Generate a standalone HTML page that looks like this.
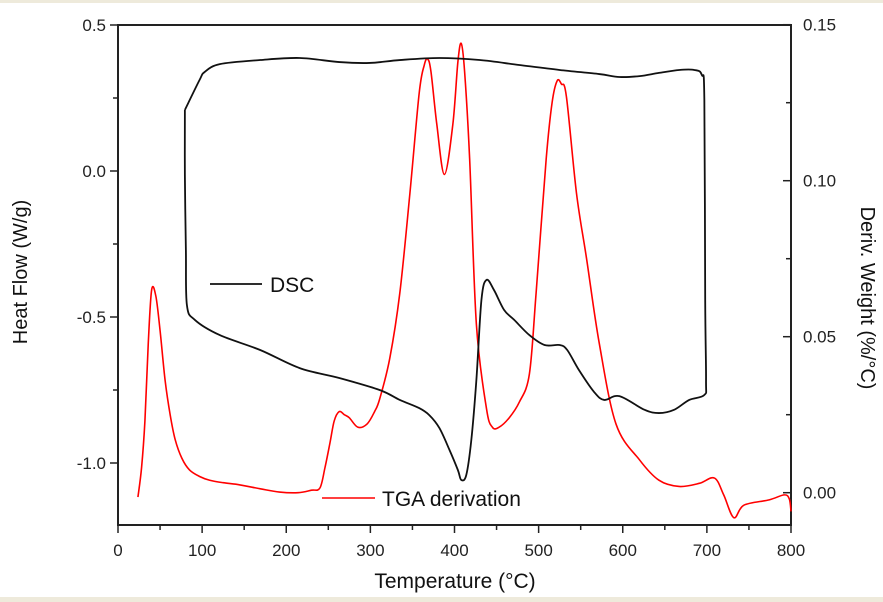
<!DOCTYPE html>
<html><head><meta charset="utf-8"><style>
html,body{margin:0;padding:0;background:#fff}
body{width:883px;height:602px;overflow:hidden;position:relative;font-family:"Liberation Sans",Arial,sans-serif}
.band{position:absolute;left:0;width:883px;background:#eeeadb}
</style></head><body>
<div class="band" style="top:0;height:3px"></div>
<div class="band" style="top:597px;height:5px"></div>
<svg id="chart" width="883" height="602" style="position:absolute;left:0;top:0"></svg>
<script>
const xTicks=[0,100,200,300,400,500,600,700,800];
const leftTicks=[0.5,0.0,-0.5,-1.0];
const leftTickLabels=["0.5","0.0","-0.5","-1.0"];
const rightTicks=[0.00,0.05,0.10,0.15];
const rightTickLabels=["0.00","0.05","0.10","0.15"];
const dscT=[79.5,79.5,80.7,81.9,91.4,121,169,216,263,311,335,358,370,382,394,404,408,414,420,426,432,438,447,459,471,489,507,525,534,548,566,578,596,626,643,661,679,697,699,698,697,694,685,667,643,620,596,572,525,477,430,382,335,299,263,216,169,121,103,97,79.5];
const dscH=[0.209,-0.014,-0.271,-0.459,-0.510,-0.562,-0.613,-0.675,-0.709,-0.750,-0.784,-0.812,-0.836,-0.880,-0.955,-1.024,-1.058,-1.041,-0.921,-0.716,-0.442,-0.373,-0.408,-0.476,-0.510,-0.562,-0.596,-0.596,-0.613,-0.682,-0.757,-0.784,-0.771,-0.818,-0.829,-0.818,-0.784,-0.767,-0.716,-0.442,0.243,0.329,0.346,0.346,0.336,0.325,0.322,0.332,0.346,0.363,0.380,0.387,0.380,0.370,0.373,0.387,0.380,0.366,0.339,0.312,0.209];
const tgaT=[23.7,28,32,36,40,45,50,56,62,68,76,85,97,109,125,145,170,192,214,230,240,246,252,257,263,269,275,285,296,305,311,323,335,347,358,364,368,372,379,388,398,404,408,412,418,426,438,445,453,465,477,489,497,509,516,522,527,533,545,557,572,592,620,643,667,691,709,720,732,744,774,792,798,800];
const tgaV=[-0.0014,0.008,0.023,0.048,0.065,0.063,0.052,0.036,0.025,0.017,0.011,0.0073,0.0052,0.004,0.0032,0.0025,0.0012,0.0002,0,0.0008,0.0015,0.008,0.016,0.023,0.026,0.025,0.024,0.021,0.022,0.026,0.030,0.043,0.064,0.096,0.128,0.137,0.139,0.135,0.118,0.102,0.118,0.138,0.144,0.135,0.107,0.054,0.027,0.021,0.021,0.024,0.029,0.038,0.064,0.107,0.125,0.132,0.131,0.127,0.096,0.075,0.048,0.022,0.0105,0.004,0.002,0.003,0.0047,-0.0007,-0.008,-0.004,-0.0023,-0.0007,-0.002,-0.006];

const X0=118,X1=791,YT=25,YB=525;
const sx=t=>X0+(t/800)*(X1-X0);
const syL=v=>25+(0.5-v)*292;
const syR=v=>492.7-v*3120;
const svg=document.getElementById('chart');
const NS='http://www.w3.org/2000/svg';
function mk(tag,attrs,parent){const e=document.createElementNS(NS,tag);for(const k in attrs)e.setAttribute(k,attrs[k]);(parent||svg).appendChild(e);return e;}
function smoothPath(pts){
  let d='M'+pts[0][0]+','+pts[0][1];
  for(let i=0;i<pts.length-1;i++){
    const p0=pts[Math.max(0,i-1)],p1=pts[i],p2=pts[i+1],p3=pts[Math.min(pts.length-1,i+2)];
    const c1x=p1[0]+(p2[0]-p0[0])/6,c1y=p1[1]+(p2[1]-p0[1])/6;
    const c2x=p2[0]-(p3[0]-p1[0])/6,c2y=p2[1]-(p3[1]-p1[1])/6;
    d+=` C${c1x},${c1y} ${c2x},${c2y} ${p2[0]},${p2[1]}`;
  }
  return d;
}

let e=mk('path',{d:`M${X0},${YT}H${X1}V${YB}H${X0}Z`,fill:'none',stroke:'#222','stroke-width':2});



for(let t=0;t<=800;t+=50){
  const major=t%100===0;
  e=mk('line',{x1:sx(t),x2:sx(t),y1:YB,y2:YB+(major?8:5),stroke:'#222','stroke-width':1.5});
  
  
}
xTicks.forEach(t=>{
  e=mk('text',{x:sx(t),y:YB+31,'font-size':17,'text-anchor':'middle',fill:'#222'});e.textContent=String(t);
  
  
});
for(let v=0.5;v>=-1.2;v-=0.25){
  const major=Math.abs(Math.round(v*2)-v*2)<1e-6;
  e=mk('line',{x1:X0,x2:X0-(major?8:5),y1:syL(v),y2:syL(v),stroke:'#222','stroke-width':1.5});
  
  
}
leftTicks.forEach((v,i)=>{
  e=mk('text',{x:X0-12,y:syL(v)+6,'font-size':17,'text-anchor':'end',fill:'#222'});e.textContent=leftTickLabels[i];
  
  
});
for(let v=0;v<=0.15001;v+=0.025){
  const major=Math.abs(Math.round(v*20)-v*20)<1e-6;
  e=mk('line',{x1:X1,x2:X1-(major?8:5),y1:syR(v),y2:syR(v),stroke:'#222','stroke-width':1.5});
  
  
}
rightTicks.forEach((v,i)=>{
  e=mk('text',{x:X1+12,y:syR(v)+6,'font-size':17,'text-anchor':'start',fill:'#222'});e.textContent=rightTickLabels[i];
  
  
});

e=mk('path',{d:smoothPath(tgaT.map((t,i)=>[sx(t),syR(tgaV[i])])),fill:'none',stroke:'#ff0000','stroke-width':1.6,'stroke-linejoin':'round'});


e=mk('path',{d:smoothPath(dscT.map((t,i)=>[sx(t),syL(dscH[i])])),fill:'none',stroke:'#111','stroke-width':1.8,'stroke-linejoin':'round'});



e=mk('line',{x1:210,x2:262,y1:284,y2:284,stroke:'#111','stroke-width':1.8});


e=mk('text',{x:270,y:292,'font-size':21,fill:'#111'});e.textContent='DSC';


e=mk('line',{x1:322,x2:375,y1:498,y2:498,stroke:'#ff0000','stroke-width':1.6});


e=mk('text',{x:382,y:506,'font-size':21,fill:'#111'});e.textContent='TGA derivation';



e=mk('text',{x:455,y:588,'font-size':21,'text-anchor':'middle',fill:'#111'});e.textContent='Temperature (\u00B0C)';


e=mk('text',{x:0,y:0,'font-size':20,'text-anchor':'middle',fill:'#111',transform:'translate(27,272) rotate(-90)'});e.textContent='Heat Flow (W/g)';


e=mk('text',{x:0,y:0,'font-size':20,'text-anchor':'middle',fill:'#111',transform:'translate(861,298) rotate(90)'});e.textContent='Deriv. Weight (%/\u00B0C)';


</script>
</body></html>
